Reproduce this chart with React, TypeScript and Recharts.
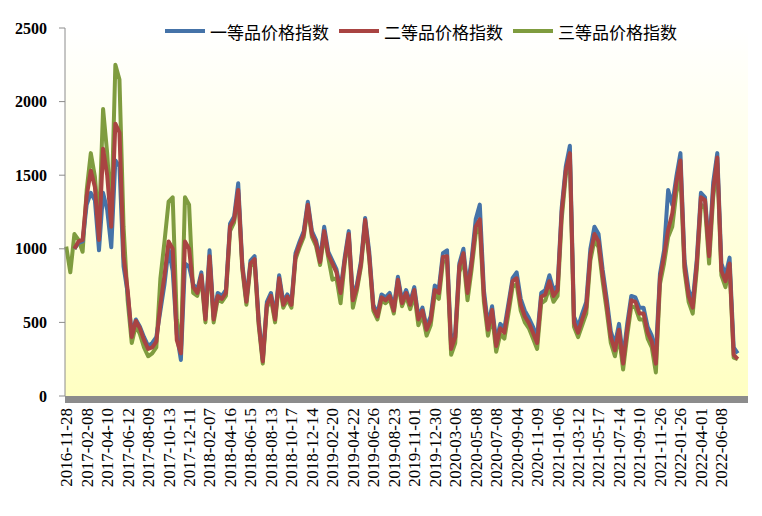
import React from "react";
import { LineChart, Line, XAxis, YAxis, CartesianGrid } from "recharts";

const DATE_TICKS = [
  "2016-11-28", "2017-02-08", "2017-04-10", "2017-06-12", "2017-08-09", "2017-10-13",
  "2017-12-11", "2018-02-07", "2018-04-16", "2018-06-15", "2018-08-13", "2018-10-17",
  "2018-12-14", "2019-02-20", "2019-04-22", "2019-06-26", "2019-08-23", "2019-11-01",
  "2019-12-30", "2020-03-06", "2020-05-08", "2020-07-08", "2020-09-04", "2020-11-09",
  "2021-01-06", "2021-03-12", "2021-05-17", "2021-07-14", "2021-09-10", "2021-11-26",
  "2022-01-26", "2022-04-01", "2022-06-08",
];
// one label every 5 observations
const TICK_STEP = 5;

const SERIES_NAMES = ["一等品价格指数", "二等品价格指数", "三等品价格指数"];
const COLORS = ["#4573A8", "#A94442", "#7F9C3F"];
const Y_TICKS = [0, 500, 1000, 1500, 2000, 2500];

const FIRST = [
  null, null, 1000, 1040, 1050, 1300, 1380, 1330, 990, 1380, 1265, 1010, 1600, 1560, 880, 700, 420, 520, 470, 400,
  340, 360, 400, 580, 760, 1000, 850, 420, 245, 900, 880, 760, 720, 840, 540, 990, 540, 700, 680, 720,
  1170, 1220, 1445, 900, 650, 920, 950, 520, 250, 640, 700, 540, 820, 640, 690, 640, 970, 1050, 1120, 1320,
  1120, 1060, 930, 1150, 980, 920, 860, 720, 940, 1120, 670, 760, 920, 1210, 980, 620, 560, 690, 670, 700,
  600, 810, 650, 720, 640, 740, 540, 600, 470, 540, 750, 730, 970, 990, 350, 430, 900, 1000, 730, 930,
  1200, 1300, 720, 480, 610, 370, 490, 460, 630, 800, 840, 660, 580, 530, 470, 400, 700, 720, 820, 720,
  750, 1280, 1560, 1700, 540, 470, 560, 640, 1000, 1150, 1100, 860, 660, 440, 350, 490, 260, 490, 680, 670,
  600, 600, 470, 410, 290, 830, 990, 1400, 1300, 1490, 1650, 920, 720, 640, 930, 1380, 1350, 990, 1450, 1650,
  900, 820, 940, 330, 290,
];

const SECOND = [
  null, null, 1000, 1050, 1060, 1360, 1530, 1420, 1060, 1680, 1500, 1150, 1850, 1790, 950, 720, 400, 510, 460, 380,
  320, 330, 370, 620, 820, 1050, 1000, 380, 290, 1050, 1000, 740, 700, 820, 520, 950, 520, 680, 660, 700,
  1150, 1200, 1400, 880, 640, 900, 930, 500, 235, 620, 680, 520, 800, 620, 675, 620, 950, 1030, 1100, 1300,
  1100, 1040, 910, 1120, 960, 900, 840, 700, 920, 1100, 650, 740, 900, 1195, 950, 600, 540, 670, 650, 680,
  580, 790, 630, 700, 620, 720, 520, 580, 450, 515, 720, 700, 945, 950, 320, 400, 880, 970, 700, 900,
  1150, 1200, 680, 450, 585, 340, 460, 430, 600, 780, 800, 620, 540, 495, 430, 360, 675, 690, 780, 680,
  720, 1250, 1530, 1650, 500, 430, 520, 600, 960, 1100, 1050, 820, 620, 400, 310, 450, 220, 450, 650, 640,
  560, 560, 430, 370, 220, 800, 950, 1130, 1240, 1450, 1600, 880, 680, 600, 900, 1350, 1330, 950, 1400, 1620,
  850, 780, 900, 280, 250,
];

const THIRD = [
  1015, 840, 1100, 1060, 980, 1400, 1650, 1490, 1150, 1950, 1650, 1220, 2250, 2150, 1150, 650, 360, 480, 420, 330,
  270, 290, 330, 800, 1050, 1320, 1350, 520, 300, 1350, 1300, 700, 680, 800, 500, 930, 500, 660, 640, 680,
  1120, 1180, 1380, 860, 620, 880, 910, 480, 220, 600, 660, 500, 780, 600, 655, 600, 930, 1010, 1080, 1280,
  1080, 1020, 890, 1100, 940, 790, 800, 630, 900, 1080, 600, 720, 880, 1180, 930, 580, 520, 650, 630, 660,
  560, 770, 610, 680, 590, 690, 480, 550, 410, 480, 690, 660, 910, 920, 280, 360, 840, 930, 650, 860,
  1100, 1150, 640, 410, 550, 300, 420, 390, 560, 740, 760, 580, 500, 460, 390, 320, 630, 650, 740, 640,
  680, 1200, 1500, 1620, 470, 400, 480, 560, 920, 1060, 1010, 780, 580, 360, 270, 410, 180, 410, 610, 600,
  520, 520, 390, 330, 160, 760, 900, 1080, 1150, 1380, 1500, 850, 640, 560, 860, 1300, 1280, 900, 1350, 1580,
  820, 740, 880, 260, 250,
];

const rows = THIRD.map((_, i) => ({ i, s1: FIRST[i], s2: SECOND[i], s3: THIRD[i] }));
const xTicks = DATE_TICKS.map((_, k) => k * TICK_STEP);

const DateTick = (props: any) => {
  const { x, y, payload } = props;
  const label = DATE_TICKS[Math.round(payload.value / TICK_STEP)] ?? "";
  const ty = y + 12;
  return (
    <text
      x={x}
      y={ty}
      transform={`rotate(-90 ${x} ${ty})`}
      textAnchor="end"
      dy="0.35em"
      fontFamily="Liberation Serif, serif"
      fontSize={17}
      fill="#000"
    >
      {label}
    </text>
  );
};

const legendOrder = [0, 1, 2];

export default function App() {
  return (
    <div style={{ position: "absolute", left: 0, top: 0, width: 762, height: 516, background: "#fff" }}>
      <LineChart width={762} height={516} data={rows} margin={{ top: 28, right: 14, bottom: 10, left: 0 }}>
        <defs>
          <linearGradient id="plotBg" x1="0" y1="0" x2="0" y2="1">
            <stop offset="0%" stopColor="#FFFFFF" />
            <stop offset="100%" stopColor="#FFFFC2" />
          </linearGradient>
        </defs>
        <CartesianGrid fill="url(#plotBg)" horizontal={false} vertical={false} stroke="none" />
        <XAxis
          type="number"
          dataKey="i"
          domain={[-0.3, 166.5]}
          ticks={xTicks}
          interval={0}
          height={110}
          tickLine={false}
          tickSize={0}
          tickMargin={0}
          axisLine={{ stroke: "#8C8C8C", strokeWidth: 7, transform: "translate(0,3.5)" }}
          tick={<DateTick />}
        />
        <YAxis
          width={65}
          domain={[0, 2500]}
          ticks={Y_TICKS}
          interval={0}
          tickSize={6}
          tickMargin={12}
          axisLine={{ stroke: "#8C8C8C" }}
          tickLine={{ stroke: "#8C8C8C" }}
          tick={{ fontFamily: "Liberation Serif, serif", fontSize: 16, fontWeight: "bold", fill: "#000" }}
        />
        <Line dataKey="s3" stroke={COLORS[2]} strokeWidth={4} dot={false} isAnimationActive={false} strokeLinejoin="round" />
        <Line dataKey="s1" stroke={COLORS[0]} strokeWidth={4} dot={false} isAnimationActive={false} strokeLinejoin="round" />
        <Line dataKey="s2" stroke={COLORS[1]} strokeWidth={4} dot={false} isAnimationActive={false} strokeLinejoin="round" />
      </LineChart>
      <div
        style={{
          position: "absolute",
          left: 165,
          top: 16,
          height: 30,
          display: "flex",
          alignItems: "center",
          fontFamily: "Noto Sans CJK SC, sans-serif",
          fontSize: 17,
          color: "#000",
          whiteSpace: "nowrap",
        }}
      >
        {legendOrder.map((k) => (
          <div key={k} style={{ display: "flex", alignItems: "center", marginRight: 10 }}>
            <span style={{ display: "inline-block", width: 40, height: 4, background: COLORS[k], marginRight: 5 }} />
            <span>{SERIES_NAMES[k]}</span>
          </div>
        ))}
      </div>
    </div>
  );
}
